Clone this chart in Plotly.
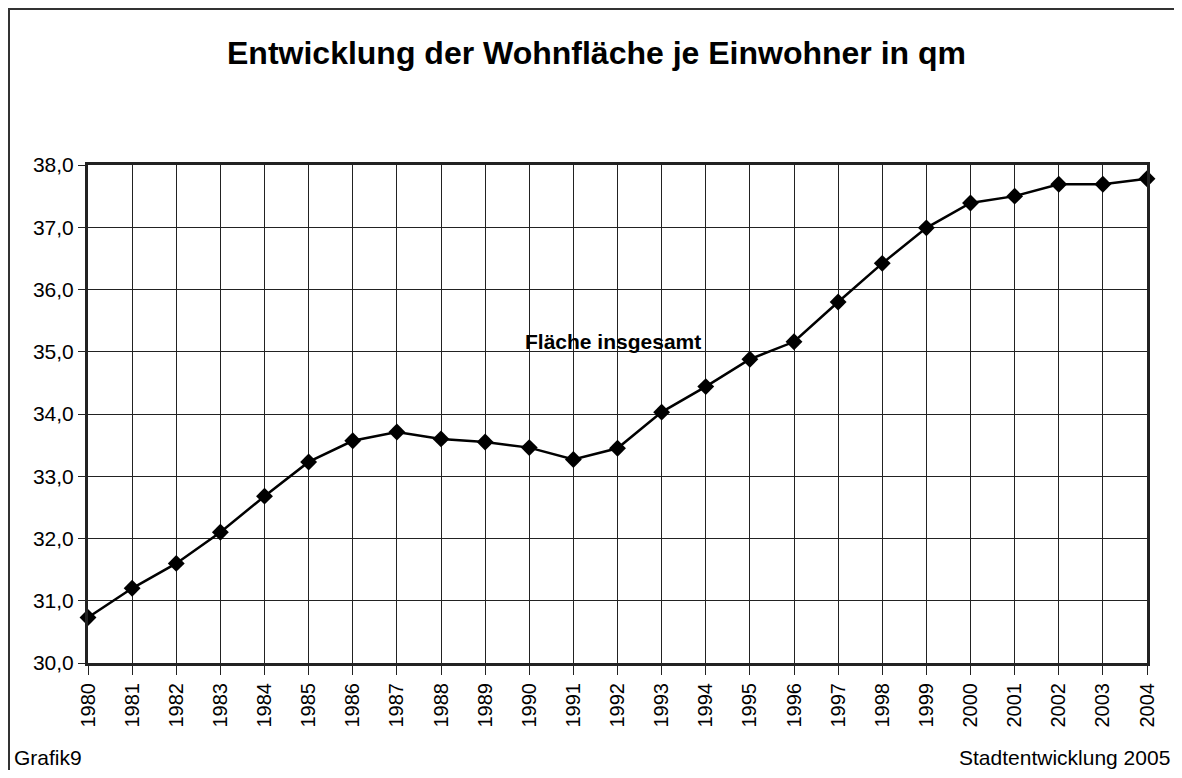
import plotly.graph_objects as go

# Wohnfläche je Einwohner (qm)
years = list(range(1980, 2005))
flaeche = [30.73, 31.2, 31.6, 32.1, 32.68, 33.23, 33.57, 33.71, 33.6, 33.55,
           33.46, 33.27, 33.45, 34.03, 34.44, 34.88, 35.16, 35.8, 36.42, 36.99,
           37.39, 37.5, 37.69, 37.69, 37.78]
y_ticks = [30, 31, 32, 33, 34, 35, 36, 37, 38]

FONT = "Liberation Sans, Arial, sans-serif"

fig = go.Figure()
fig.add_trace(go.Scatter(
    x=years, y=flaeche, mode='lines+markers', name='Fläche insgesamt',
    line=dict(color='black', width=2.5),
    marker=dict(symbol='diamond', size=13, color='black'),
    showlegend=False, cliponaxis=False,
))

# page body adds an 8px offset, figure kept small enough to avoid scrollbars
fig.update_layout(
    width=1174, height=762,
    margin=dict(l=80, r=35, t=157, b=107),
    paper_bgcolor='white', plot_bgcolor='white',
    font=dict(family=FONT, color='black', size=21),
    separators=',.',
)

fig.update_xaxes(
    range=[1980, 2004], tickmode='array', tickvals=years,
    ticktext=[str(y) for y in years], tickangle=-90,
    showgrid=True, gridcolor='#222', gridwidth=1,
    showline=True, linecolor='#222', linewidth=3, mirror=True,
    ticks='outside', ticklen=9, tickcolor='#222', zeroline=False,
    tickfont=dict(size=20),
)
fig.update_yaxes(
    range=[30, 38], tickmode='array', tickvals=y_ticks, tickformat='.1f',
    showgrid=True, gridcolor='#222', gridwidth=1,
    showline=True, linecolor='#222', linewidth=3, mirror=True,
    ticks='outside', ticklen=7, tickcolor='#222', zeroline=False,
    tickfont=dict(size=21),
)

# title, label and footer texts
fig.add_annotation(text='<b>Entwicklung der Wohnfläche je Einwohner in qm</b>',
                   xref='paper', yref='paper', x=0.4806, y=1.225,
                   xanchor='center', yanchor='middle', showarrow=False,
                   font=dict(size=32))
fig.add_annotation(text='<b>Fläche insgesamt</b>', x=1991.9, y=35.16,
                   xanchor='center', yanchor='middle', showarrow=False,
                   font=dict(size=21))
fig.add_annotation(text='Grafik9', xref='paper', yref='paper', x=-0.0718, y=-0.189,
                   xanchor='left', yanchor='middle', showarrow=False)
fig.add_annotation(text='Stadtentwicklung 2005', xref='paper', yref='paper', x=1.0236, y=-0.189,
                   xanchor='right', yanchor='middle', showarrow=False)

# outer frame (only left and top edges are visible in the original)
fig.add_shape(type='rect', xref='paper', yref='paper',
              x0=-0.0746, y0=-0.5, x1=1.2, y1=1.3133,
              line=dict(color='#333', width=2))

fig.write_html("out.html")
